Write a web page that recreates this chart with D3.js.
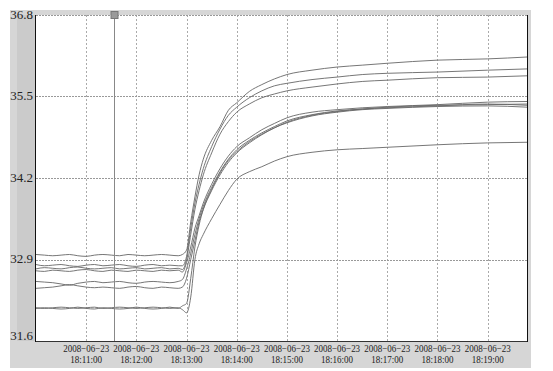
<!DOCTYPE html>
<html>
<head>
<meta charset="utf-8">
<script src="https://cdn.jsdelivr.net/npm/d3@7"></script>
<style>
  body { margin: 0; background: #fff; }
</style>
</head>
<body>
<div class="chart"></div>
<script>
// seconds after 18:10:00 on 2008-06-23
const seconds = [0,10,20,30,40,50,60,70,80,90,100,110,120,130,140,150,160,170,175,
	180,185,190,195,200,210,220,230,240,255,270,285,300,330,360,390,420,480,540,587]

const s1 = [32.98,32.97,32.96,32.97,32.98,32.96,32.95,32.97,32.98,32.97,32.96,32.98,32.97,32.96,32.97,32.98,32.97,32.96,32.98,
	33.05,33.5,33.9,34.25,34.5,34.8,35.02,35.28,35.4,35.58,35.69,35.78,35.85,35.92,35.97,36.0,36.03,36.08,36.1,36.13]
const s2 = [32.82,32.80,32.81,32.82,32.80,32.79,32.81,32.82,32.80,32.81,32.82,32.80,32.79,32.81,32.82,32.80,32.81,32.80,32.80,
	32.95,33.4,33.8,34.1,34.35,34.7,34.98,35.2,35.33,35.48,35.59,35.67,35.71,35.77,35.81,35.85,35.87,35.89,35.92,35.94]
const s3 = [32.75,32.77,32.76,32.75,32.77,32.78,32.76,32.75,32.76,32.77,32.75,32.76,32.77,32.75,32.76,32.77,32.75,32.76,32.74,
	32.9,33.3,33.7,34.0,34.25,34.6,34.9,35.1,35.25,35.38,35.48,35.54,35.59,35.65,35.7,35.74,35.76,35.8,35.81,35.83]
const s4 = [32.72,32.71,32.73,32.72,32.71,32.73,32.74,32.72,32.71,32.73,32.72,32.71,32.73,32.72,32.71,32.73,32.72,32.73,32.70,
	32.85,33.1,33.4,33.6,33.8,34.1,34.35,34.55,34.7,34.84,34.97,35.07,35.16,35.25,35.29,35.32,35.34,35.37,35.41,35.42]
const s5 = [32.55,32.54,32.53,32.51,32.49,32.52,32.54,32.55,32.53,32.54,32.55,32.53,32.52,32.54,32.55,32.54,32.53,32.55,32.58,
	32.75,33.0,33.3,33.55,33.75,34.05,34.3,34.5,34.65,34.8,34.92,35.02,35.11,35.21,35.27,35.3,35.33,35.36,35.37,35.38]
const s6 = [32.44,32.45,32.46,32.48,32.50,32.48,32.46,32.45,32.46,32.45,32.44,32.46,32.47,32.45,32.44,32.46,32.45,32.44,32.46,
	32.6,32.9,33.2,33.5,33.7,34.0,34.25,34.45,34.6,34.76,34.89,35.0,35.08,35.19,35.25,35.29,35.31,35.34,35.35,35.33]
const s7 = [32.13,32.12,32.13,32.14,32.13,32.12,32.13,32.14,32.12,32.13,32.14,32.13,32.12,32.13,32.14,32.13,32.12,32.13,32.10,
	32.05,32.3,32.9,33.15,33.3,33.55,33.78,34.0,34.18,34.3,34.38,34.47,34.54,34.61,34.65,34.67,34.69,34.73,34.76,34.77]
const s8 = [32.12,32.13,32.12,32.11,32.12,32.14,32.12,32.11,32.13,32.12,32.11,32.12,32.14,32.12,32.11,32.12,32.14,32.12,32.16,
	32.2,32.6,33.1,33.45,33.7,34.02,34.28,34.48,34.62,34.78,34.9,35.0,35.09,35.2,35.26,35.3,35.32,35.35,35.38,35.36]
const series = [s1, s2, s3, s4, s5, s6, s7, s8]

const yTicks = [31.6, 32.9, 34.2, 35.5, 36.8]
const xTickMinutes = [11, 12, 13, 14, 15, 16, 17, 18, 19]
const cursorSecond = 93

const width = 553, height = 371
const pLeft = 36, pRight = 527, pTop = 15, pBottom = 341
const serif = '"Liberation Serif"'

const t0 = new Date(2008, 5, 23, 18, 10, 0)
const toDate = s => new Date(t0.getTime() + s * 1000)

const x = d3.scaleTime()
	.domain([toDate(0), toDate(587)])
	.range([pLeft, pRight])

const y = d3.scaleLinear()
	.domain([31.6, 36.8])
	.range([pBottom, pTop])

const svg = d3.select('.chart').append('svg')
	.attr('width', width)
	.attr('height', height)

// gray frame
svg.append('rect').attr('x', 10).attr('y', 10).attr('width', 521).attr('height', 358).attr('fill', '#d6d6d6')
svg.append('rect').attr('x', 17).attr('y', pTop).attr('width', pLeft - 17).attr('height', pBottom - pTop).attr('fill', '#cbcbcb')
svg.append('rect').attr('x', pLeft).attr('y', pTop).attr('width', pRight - pLeft).attr('height', pBottom - pTop).attr('fill', '#fff')

// grid
const xTickDates = xTickMinutes.map(m => new Date(2008, 5, 23, 18, m, 0))
svg.append('g').selectAll('line').data(xTickDates).join('line')
	.attr('x1', d => Math.round(x(d)) + 0.5).attr('x2', d => Math.round(x(d)) + 0.5)
	.attr('y1', pTop).attr('y2', pBottom)
	.attr('stroke', '#aaa').attr('stroke-dasharray', '2,2')
svg.append('g').selectAll('line').data(yTicks.slice(1)).join('line')
	.attr('x1', pLeft).attr('x2', pRight)
	.attr('y1', d => Math.round(y(d)) + 0.5).attr('y2', d => Math.round(y(d)) + 0.5)
	.attr('stroke', '#999').attr('stroke-dasharray', '2,1')

// lines
const line = d3.line()
	.x((d, i) => x(toDate(seconds[i])))
	.y(d => y(d))
	.curve(d3.curveMonotoneX)

svg.append('g').selectAll('path').data(series).join('path')
	.attr('d', line)
	.attr('fill', 'none')
	.attr('stroke', '#666')
	.attr('stroke-width', 0.9)

// border
svg.append('line').attr('x1', pLeft - 0.5).attr('x2', pLeft - 0.5).attr('y1', pTop).attr('y2', pBottom + 1).attr('stroke', '#111')
svg.append('line').attr('x1', pLeft).attr('x2', pRight).attr('y1', pBottom + 0.5).attr('y2', pBottom + 0.5).attr('stroke', '#333')
svg.append('line').attr('x1', pRight + 0.5).attr('x2', pRight + 0.5).attr('y1', pTop).attr('y2', pBottom + 1).attr('stroke', '#111')

// cursor
const cx = Math.round(x(toDate(cursorSecond))) + 0.5
svg.append('line').attr('x1', cx).attr('x2', cx).attr('y1', pTop).attr('y2', pBottom).attr('stroke', '#888')
svg.append('rect').attr('x', cx - 3.5).attr('y', pTop - 3.5).attr('width', 7).attr('height', 7)
	.attr('fill', '#9a9a9a').attr('stroke', '#777')

// y labels
svg.append('g').selectAll('text').data(yTicks).join('text')
	.attr('x', 33)
	.attr('y', d => Math.min(y(d) + 3.5, pBottom - 1))
	.attr('text-anchor', 'end')
	.attr('font-family', serif)
	.attr('font-size', 13)
	.attr('fill', '#222')
	.text(d => d.toFixed(1))

// x labels: two separate texts per tick
const xg = svg.append('g').attr('font-family', serif).attr('font-size', 10).attr('fill', '#222')
xg.selectAll('text.date').data(xTickDates).join('text')
	.attr('class', 'date')
	.attr('text-anchor', 'middle')
	.attr('x', d => x(d)).attr('y', 352)
	.attr('textLength', 46).attr('lengthAdjust', 'spacingAndGlyphs')
	.text(d3.timeFormat('%Y\u2212%m\u2212%d'))
xg.selectAll('text.time').data(xTickDates).join('text')
	.attr('class', 'time')
	.attr('text-anchor', 'middle')
	.attr('x', d => x(d)).attr('y', 363)
	.attr('textLength', 32).attr('lengthAdjust', 'spacingAndGlyphs')
	.text(d3.timeFormat('%H:%M:%S'))
</script>
</body>
</html>
